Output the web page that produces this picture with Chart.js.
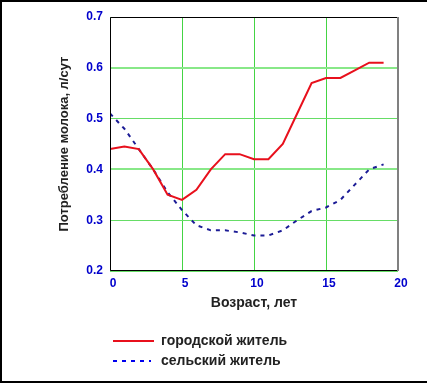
<!DOCTYPE html>
<html><head><meta charset="utf-8">
<script src="https://cdn.jsdelivr.net/npm/chart.js@4/dist/chart.umd.min.js"></script>
<style>html,body{margin:0;padding:0;background:#fff}#wrap{width:427px;height:383px;position:relative}</style>
</head><body><div id="wrap"><canvas id="c" width="427" height="383"></canvas></div>
<script>
const ages = [0,1,2,3,4,5,6,7,8,9,10,11,12,13,14,15,16,17,18,19];
const urban = [0.44,0.445,0.44,0.40,0.35,0.34,0.36,0.40,0.43,0.43,0.42,0.42,0.45,0.51,0.57,0.58,0.58,0.595,0.61,0.61];
const rural = [0.51,0.48,0.44,0.40,0.355,0.32,0.29,0.28,0.28,0.276,0.27,0.27,0.28,0.30,0.318,0.325,0.34,0.37,0.40,0.41];
const seriesNames = ['городской житель','сельский житель'];
const xTitle = 'Возраст, лет';
const yTitle = 'Потребление молока, л/сут';

const FONT = "'Liberation Sans', Arial, sans-serif";

const frame = {
  id:'frame',
  beforeDraw(chart){
    const c = chart.ctx; c.save();
    c.fillStyle='#fff'; c.fillRect(0,0,chart.width,chart.height);
    c.restore();
  },
  afterDraw(chart){
    const c = chart.ctx, a = chart.chartArea; c.save();
    c.strokeStyle='#000'; c.lineWidth=2;
    c.beginPath(); c.moveTo(427,1); c.lineTo(1,1); c.lineTo(1,382); c.lineTo(427,382); c.stroke();
    c.lineWidth=1; c.strokeStyle='#000';
    c.beginPath(); c.moveTo(a.right,a.top+0.5); c.lineTo(a.left+0.5,a.top+0.5); c.lineTo(a.left+0.5,a.bottom-0.5); c.lineTo(a.right,a.bottom-0.5); c.stroke();
    c.strokeStyle='#808080'; c.lineWidth=2;
    c.beginPath(); c.moveTo(a.right,a.top); c.lineTo(a.right,a.bottom); c.stroke();
    const ds = chart.data.datasets;
    const ys=[341,361];
    ds.forEach((d,i)=>{
      c.strokeStyle = i===0? d.borderColor : '#0000ee';
      c.lineWidth=2;
      c.setLineDash(d.borderDash||[]);
      c.beginPath(); c.moveTo(113,ys[i]); c.lineTo(i===0?154:151,ys[i]); c.stroke();
      c.setLineDash([]);
      c.fillStyle='#222'; c.font='bold 14px '+FONT; c.textBaseline='middle'; c.textAlign='left';
      c.fillText(d.label,161,ys[i]);
    });
    c.restore();
  }
};

new Chart(document.getElementById('c'),{
  type:'line',
  data:{
    datasets:[
      {label:seriesNames[0],data:ages.map((a,i)=>({x:a,y:urban[i]})),borderColor:'#e8101c',borderWidth:2,pointRadius:0,tension:0,fill:false},
      {label:seriesNames[1],data:ages.map((a,i)=>({x:a,y:rural[i]})),borderColor:'#1c1c96',borderWidth:2,borderDash:[4,5],pointRadius:0,tension:0,fill:false}
    ]
  },
  options:{
    responsive:false,animation:false,
    layout:{padding:{left:0,top:17,right:29,bottom:0}},
    plugins:{legend:{display:false},tooltip:{enabled:false}},
    scales:{
      x:{type:'linear',min:0,max:20,
        afterFit(s){s.height=112;},
        ticks:{stepSize:5,color:'#0000cc',font:{family:FONT,size:12,weight:'bold'},padding:5,labelOffset:3,maxRotation:0},
        grid:{drawTicks:false,color:'#44d444',lineWidth:1},
        border:{display:false},
        title:{display:true,text:xTitle,color:'#222',font:{family:FONT,size:14,weight:'bold'},padding:{top:0,bottom:71}}
      },
      y:{min:0.2,max:0.7,
        afterFit(s){s.width=110;},
        ticks:{stepSize:0.1,color:'#0000cc',font:{family:FONT,size:12,weight:'bold'},padding:7,callback:v=>v.toFixed(1)},
        grid:{drawTicks:false,color:c=>{const v=c.tick?c.tick.value:0;return (Math.abs(v-0.4)<1e-6||Math.abs(v-0.6)<1e-6)?'#88e888':'#66dd66';},lineWidth:c=>{const v=c.tick?c.tick.value:0;return (Math.abs(v-0.4)<1e-6||Math.abs(v-0.6)<1e-6)?2:1;}},
        border:{display:false},
        title:{display:true,text:yTitle,color:'#222',font:{family:FONT,size:13,weight:'bold'},padding:{top:57,bottom:0}}
      }
    }
  },
  plugins:[frame]
});
</script></body></html>
